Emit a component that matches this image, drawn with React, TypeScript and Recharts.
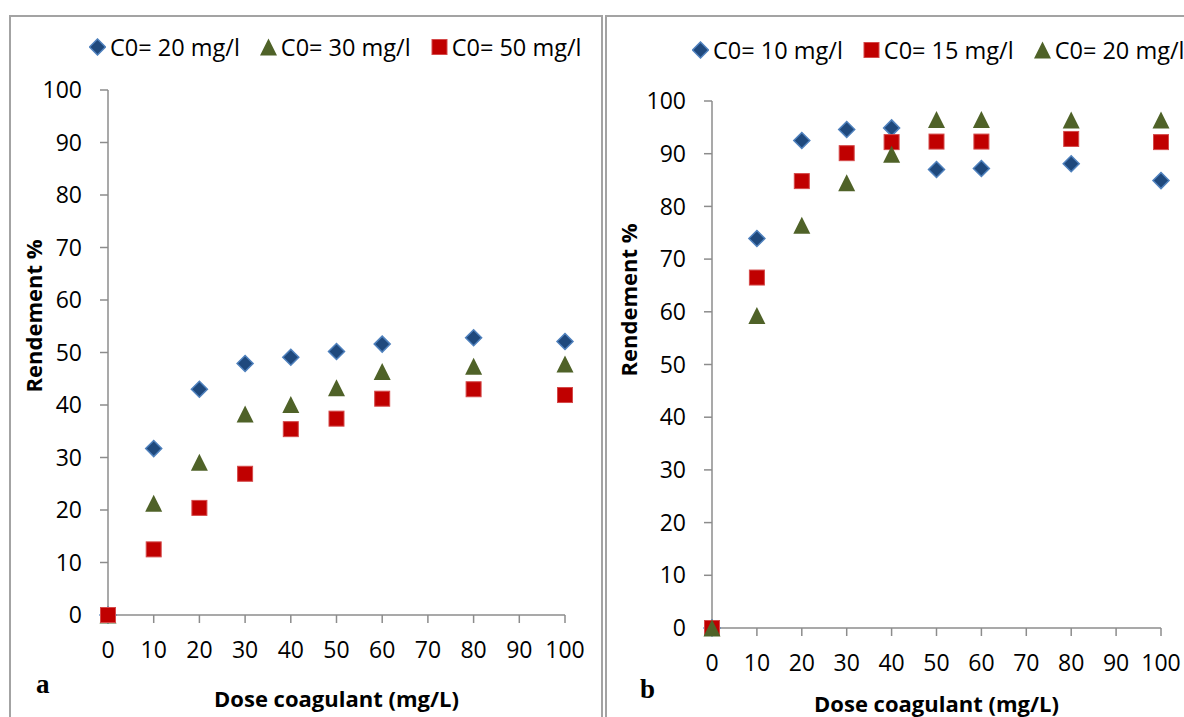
import React from "react";
import { ScatterChart, Scatter, XAxis, YAxis, Legend, Label } from "recharts";

// doses (mg/L) shared by both panels
const doses = [0, 10, 20, 30, 40, 50, 60, 80, 100];
const axisTicks = [0, 10, 20, 30, 40, 50, 60, 70, 80, 90, 100];

// panel a
const aC20 = [0, 31.7, 43.0, 47.9, 49.1, 50.2, 51.6, 52.8, 52.1];
const aC30 = [0, 21.3, 29.1, 38.3, 40.1, 43.3, 46.4, 47.4, 47.8];
const aC50 = [0, 12.5, 20.4, 26.9, 35.4, 37.4, 41.2, 43.0, 41.9];

// panel b
const bC10 = [0, 73.9, 92.5, 94.6, 94.9, 87.0, 87.2, 88.1, 84.9];
const bC15 = [0, 66.5, 84.8, 90.1, 92.2, 92.3, 92.3, 92.8, 92.2];
const bC20 = [0, 59.3, 76.4, 84.5, 89.9, 96.5, 96.5, 96.4, 96.4];

const FONT = "'Open Sans', 'Liberation Sans', sans-serif";
const AXIS = "#8c8c8c";

type Marker = "diamond" | "square" | "triangle";
type Series = { name: string; values: number[]; marker: Marker };

const seriesA: Series[] = [
  { name: "C0= 20 mg/l", values: aC20, marker: "diamond" },
  { name: "C0= 30 mg/l", values: aC30, marker: "triangle" },
  { name: "C0= 50 mg/l", values: aC50, marker: "square" },
];

const seriesB: Series[] = [
  { name: "C0= 10 mg/l", values: bC10, marker: "diamond" },
  { name: "C0= 15 mg/l", values: bC15, marker: "square" },
  { name: "C0= 20 mg/l", values: bC20, marker: "triangle" },
];

const toPoints = (vals: number[]) => doses.map((d, i) => ({ x: d, y: vals[i] }));

function drawMarker(kind: Marker, cx: number, cy: number) {
  if (kind === "diamond") {
    const r = 8;
    return (
      <polygon
        points={`${cx},${cy - r} ${cx + r},${cy} ${cx},${cy + r} ${cx - r},${cy}`}
        fill="#1F497D"
        stroke="#4F81BD"
        strokeWidth={1.5}
      />
    );
  }
  if (kind === "square") {
    return (
      <rect x={cx - 7.5} y={cy - 7.5} width={15} height={15} fill="#C00000" stroke="#D44A4A" strokeWidth={1} />
    );
  }
  return (
    <polygon
      points={`${cx},${cy - 8.5} ${cx + 8.5},${cy + 8.5} ${cx - 8.5},${cy + 8.5}`}
      fill="#4F6228"
    />
  );
}

function LegendRow({ items }: { items: Series[] }) {
  return (
    <div
      style={{
        display: "flex",
        alignItems: "center",
        whiteSpace: "nowrap",
        fontFamily: FONT,
        fontSize: 23.5,
        lineHeight: "28px",
        color: "#000",
      }}
    >
      {items.map((s) => (
        <div key={s.name} style={{ display: "flex", alignItems: "center", marginRight: 20 }}>
          <svg width={17} height={18}>{drawMarker(s.marker, 8.5, 9)}</svg>
          <span style={{ marginLeft: 4 }}>{s.name}</span>
        </div>
      ))}
    </div>
  );
}

type PanelProps = {
  series: Series[];
  letter: string;
  width: number;
  margin: { top: number; right: number; bottom: number; left: number };
  legendPos: { left: number; top: number };
  yTitle: { dx: number; dy: number };
  xTitleDy: number;
};

function Panel({ series, letter, width, margin, legendPos, yTitle, xTitleDy }: PanelProps) {
  const tick = { fill: "#000", fontSize: 23, fontFamily: FONT };
  return (
    <ScatterChart width={width} height={717} margin={margin}>
      <XAxis
        type="number"
        dataKey="x"
        domain={[0, 100]}
        ticks={axisTicks}
        interval={0}
        stroke={AXIS}
        strokeWidth={1.5}
        tickSize={8}
        tickMargin={19}
        tick={tick}
        height={60}
      >
        <Label
          content={(p: any) => {
            const vb = p.viewBox;
            const cx = vb.x + vb.width / 2;
            const by = vb.y + xTitleDy;
            return (
              <g>
                <text x={cx} y={by} textAnchor="middle" fontFamily={FONT} fontWeight="bold" fontSize={22} fill="#000">
                  Dose coagulant (mg/L)
                </text>
                <text x={vb.x - 72} y={by - 14} fontFamily="'Liberation Serif', serif" fontWeight="bold" fontSize={27} fill="#000">
                  {letter}
                </text>
              </g>
            );
          }}
        />
      </XAxis>
      <YAxis
        type="number"
        dataKey="y"
        domain={[0, 100]}
        ticks={axisTicks}
        interval={0}
        stroke={AXIS}
        strokeWidth={1.5}
        tickSize={8}
        tickMargin={18}
        tick={tick}
        width={100}
      >
        <Label
          content={(p: any) => {
            const vb = p.viewBox;
            const x = vb.x + vb.width + yTitle.dx;
            const y = vb.y + yTitle.dy;
            return (
              <text
                x={x}
                y={y}
                transform={`rotate(-90 ${x} ${y})`}
                textAnchor="middle"
                dominantBaseline="central"
                fontFamily={FONT}
                fontWeight="bold"
                fontSize={22}
                fill="#000"
              >
                Rendement %
              </text>
            );
          }}
        />
      </YAxis>
      <Legend
        verticalAlign="middle"
        align="center"
        layout="horizontal"
        wrapperStyle={{ left: legendPos.left, top: legendPos.top, width: "auto" }}
        content={() => <LegendRow items={series} />}
      />
      {series.map((s) => (
        <Scatter
          key={s.name}
          name={s.name}
          data={toPoints(s.values)}
          isAnimationActive={false}
          shape={(p: any) => drawMarker(s.marker, p.cx, p.cy)}
        />
      ))}
    </ScatterChart>
  );
}

export default function App() {
  const frame: React.CSSProperties = {
    position: "absolute",
    top: 15,
    height: 720,
    border: "2px solid #a3a3a3",
    boxSizing: "border-box",
    pointerEvents: "none",
  };
  return (
    <div
      style={{
        position: "absolute",
        left: 0,
        top: 0,
        width: 1184,
        height: 717,
        overflow: "hidden",
        background: "#fff",
      }}
    >
      <div style={{ ...frame, left: 9, width: 594 }} />
      <div style={{ ...frame, left: 605, width: 600 }} />
      <div style={{ position: "absolute", left: 0, top: 0 }}>
        <Panel
          series={seriesA}
          letter="a"
          width={602}
          margin={{ top: 90, right: 37, bottom: 42, left: 8 }}
          legendPos={{ left: 89, top: 33 }}
          yTitle={{ dx: -75, dy: 226 }}
          xTitleDy={92}
        />
      </div>
      <div style={{ position: "absolute", left: 604, top: 0 }}>
        <Panel
          series={seriesB}
          letter="b"
          width={580}
          margin={{ top: 101, right: 23, bottom: 29, left: 8 }}
          legendPos={{ left: 88, top: 36 }}
          yTitle={{ dx: -84, dy: 199 }}
          xTitleDy={84}
        />
      </div>
    </div>
  );
}
